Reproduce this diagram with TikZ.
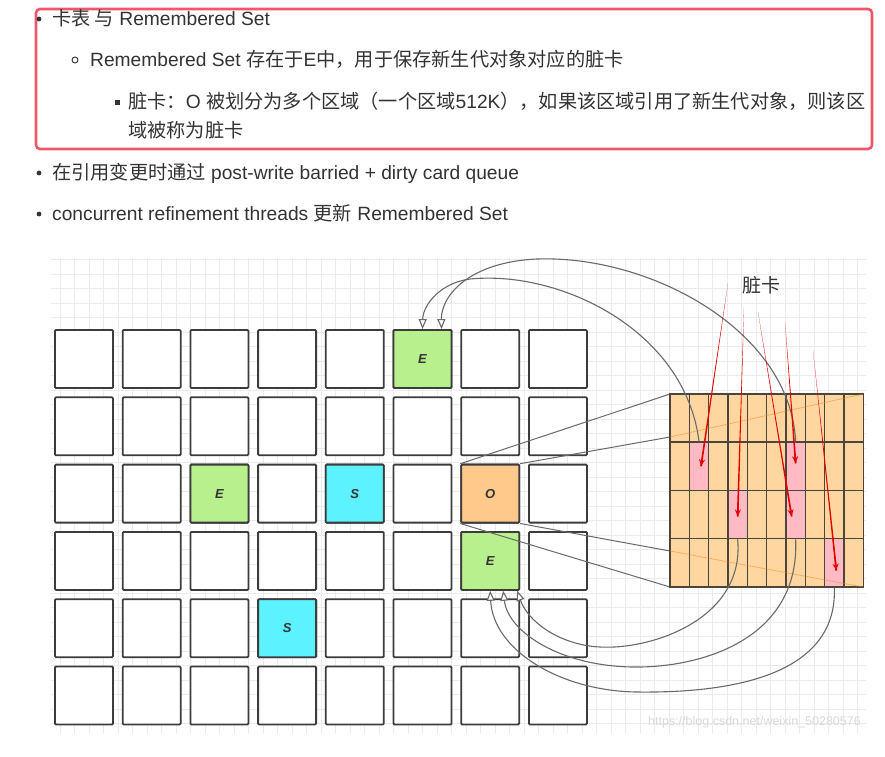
\documentclass[tikz,border=0pt]{standalone}
\usepackage{fontspec}
\setmainfont{Liberation Sans}
\newfontfamily\cj{Noto Sans CJK SC}
\usetikzlibrary{arrows.meta,calc}
\definecolor{txt}{HTML}{333333}
\definecolor{boxred}{HTML}{F0566A}
\definecolor{gridc}{HTML}{EBEBEB}
\definecolor{cellline}{HTML}{3C3C3C}
\definecolor{egreen}{HTML}{B9F08E}
\definecolor{scyan}{HTML}{5CF2FF}
\definecolor{oorange}{HTML}{FFC98C}
\definecolor{ktab}{HTML}{FFD6A0}
\definecolor{kline}{HTML}{4E443A}
\definecolor{kpink}{HTML}{FFBAC4}
\definecolor{curvec}{HTML}{6A6A6A}
\definecolor{wm}{HTML}{D9D9D9}
\begin{document}
\begin{tikzpicture}[x=1pt,y=-1pt,
  body/.style={anchor=base west,inner sep=0pt,text=txt,font=\fontsize{19.2}{22}\selectfont},
  gridline/.style={draw=gridc,line width=0.8pt},
  cell/.style={draw=cellline,line width=1.8pt,fill=white,minimum size=58pt,inner sep=0pt,rounded corners=1pt,
    font=\fontsize{13}{13}\selectfont\bfseries\itshape,text=txt},
  kcell/.style={draw=kline,line width=1.5pt,fill=ktab,minimum width=19.33pt,minimum height=48.2pt,inner sep=0pt},
  proj/.style={draw=curvec,line width=1pt},
  projin/.style={draw=orange!70!brown,opacity=0.45,line width=0.8pt},
  refcurve/.style={draw=curvec,line width=1.1pt,-{Triangle[length=10pt,width=8pt,fill=white]}},
  dirty/.style={fill=red!90!black,draw=none},
  dirtytip/.style={draw=red!90!black,line width=1.6pt,-{Stealth[length=7pt,width=6pt]}}
]
\useasboundingbox (0,0) rectangle (885,756);
\fill[white] (0,0) rectangle (885,756);

% ---------- text block ----------
\draw[boxred,line width=2.6pt,rounded corners=4pt] (36,9) rectangle (872,149);
\fill[txt] (39,19) circle (2.4);
\node[body] (t1) at (52,25) {{\cj 卡表 与} Remembered Set};
\draw[txt,line width=0.9pt] (75,60) circle (3);
\node[body] (t2) at (90,66) {Remembered Set {\cj 存在于}E{\cj 中，用于保存新生代对象对应的脏卡}};
\fill[txt] (114.5,99.5) rectangle (119.5,104.5);
\node[body] (t3) at (128,108) {{\cj 脏卡：}O {\cj 被划分为多个区域（一个区域}512K{\cj ），如果该区域引用了新生代对象，则该区}};
\node[body] (t4) at (128,137) {{\cj 域被称为脏卡}};
\fill[txt] (39,173) circle (2.4);
\node[body] (t5) at (52,179) {{\cj 在引用变更时通过} post-write barried + dirty card queue};
\fill[txt] (39,214) circle (2.4);
\node[body] (t6) at (52,220) {concurrent refinement threads {\cj 更新} Remembered Set};

% ---------- background grid ----------
\foreach \i in {0,...,55} \draw[gridline] ({60+14.5*\i},258) -- ({60+14.5*\i},734);
\foreach \j in {0,...,32} \draw[gridline] (51,{259.5+14.5*\j}) -- (866,{259.5+14.5*\j});

% ---------- regions ----------
\foreach \r in {0,...,5}
  \foreach \c in {0,...,7}
    \node[cell] (g-\r-\c) at ({84+67.7*\c},{359+67.3*\r}) {};
\node[cell,fill=egreen] (E0) at (g-0-5) {E};
\node[cell,fill=egreen] (E1) at (g-2-2) {E};
\node[cell,fill=scyan]  (S1) at (g-2-4) {S};
\node[cell,fill=oorange] (O) at (g-2-6) {O};
\node[cell,fill=egreen] (E3) at (g-3-6) {E};
\node[cell,fill=scyan]  (S2) at (g-4-3) {S};

% ---------- projection lines O -> card table ----------
\coordinate (ktl) at (670,394);
\coordinate (kml) at (670,437);
\coordinate (ktr) at (863,394);
\coordinate (kbl) at (670,587);
\coordinate (kbm) at (670,551);
\coordinate (kbr) at (863,587);
\draw[proj] (O.north west) -- (ktl);
\draw[proj] (O.north east) -- (kml);
\draw[proj] (O.south west) -- (kbl);
\draw[proj] (O.south east) -- (kbm);

% ---------- card table ----------
\foreach \r in {0,...,3}
  \foreach \c in {0,...,9}
    \node[kcell] (k-\r-\c) at ({679.67+19.33*\c},{418.1+48.2*\r}) {};
\node[kcell,fill=kpink] (p1) at (k-1-1) {};
\node[kcell,fill=kpink] (p2) at (k-2-3) {};
\node[kcell,fill=kpink] (p3) at (k-2-6) {};
\node[kcell,fill=kpink] (p4) at (k-1-6) {};
\node[kcell,fill=kpink] (p5) at (k-3-8) {};
\draw[projin] (kml) -- (ktr);
\draw[projin] (kbm) -- (kbr);

% ---------- remembered-set curves ----------
\draw[refcurve] (p1.north) .. controls (685,330) and (560,270) .. (470,279)
   .. controls (440,283) and (423,305) .. (E0.north);
\draw[refcurve] (p4.north) .. controls (790,330) and (650,255) .. (537,259)
   .. controls (470,262) and (441,295) .. ([xshift=19pt]E0.north);
\draw[refcurve] (p2.south) .. controls (745,620) and (650,650) .. (600,647)
   .. controls (560,645) and (528,622) .. ([xshift=27pt]E3.south);
\draw[refcurve] (p3.south) .. controls (800,640) and (700,668) .. (633,667)
   .. controls (560,666) and (508,632) .. ([xshift=13pt]E3.south);
\draw[refcurve] (p5.south) .. controls (838,680) and (720,693) .. (637,692)
   .. controls (560,691) and (493,650) .. (E3.south);

% ---------- dirty card label and arrows ----------
\node[text=txt,font=\cj\fontsize{19}{19}\selectfont,inner sep=0pt] (lab) at (761,285) {脏卡};
\coordinate (s1) at (728,283);
\coordinate (s2) at (744,307);
\coordinate (s3) at (758,312);
\coordinate (s4) at (785,322);
\coordinate (s5) at (813,350);
\coordinate (e1) at ([xshift=2pt]p1.center);
\coordinate (e2) at ([yshift=-2pt]p2.center);
\coordinate (e3) at ([xshift=-4pt,yshift=-2pt]p3.center);
\coordinate (e4) at ([yshift=3pt]p4.center);
\coordinate (e5) at ([xshift=2pt,yshift=-8pt]p5.center);
\foreach \s/\e in {s1/e1,s2/e2,s3/e3,s4/e4,s5/e5}{
  \fill[dirty] (\s) -- ($(\e)!0.9pt!90:(\s)$) -- ($(\e)!0.9pt!-90:(\s)$) -- cycle;
  \draw[dirtytip] ($(\e)!8pt!(\s)$) -- (\e);
}

% ---------- watermark ----------
\node[anchor=east,text=wm,font=\fontsize{12.5}{13}\selectfont,inner sep=0pt] (wmk) at (861,722) {https://blog.csdn.net/weixin\_50280576};
\end{tikzpicture}
\end{document}
